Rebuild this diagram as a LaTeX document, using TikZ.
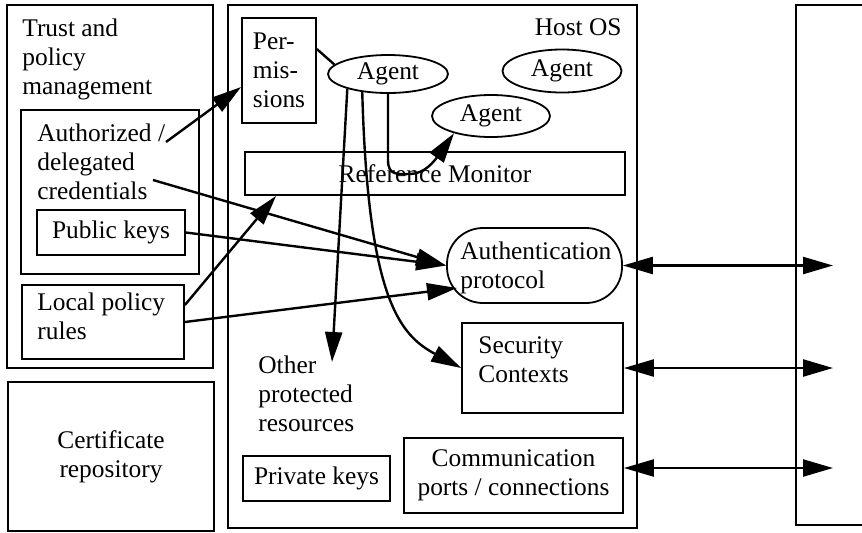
\documentclass[tikz,border=0pt]{standalone}
\usepackage{fontspec}
\setmainfont{Liberation Serif}
\usetikzlibrary{arrows.meta,shapes.geometric}
\begin{document}
\begin{tikzpicture}[x=0.5pt,y=-0.5pt,
  every node/.style={font=\fontsize{12.7}{14.5}\selectfont, inner sep=0pt},
  box/.style={draw, line width=0.9pt, rectangle, inner sep=0pt},
  txt/.style={align=left, anchor=west},
  agentnode/.style={draw, ellipse, line width=0.9pt},
  arr/.style={line width=1.2pt, -{Triangle[length=15pt,width=8.5pt]}},
  biarr/.style={line width=1.2pt, {Triangle[length=15pt,width=8.5pt]}-{Triangle[length=15pt,width=8.5pt]}},
  link/.style={line width=1.2pt}]

\useasboundingbox (0,0) rectangle (862,532);

% ---- trust and policy management column
\node[box, minimum width=103pt, minimum height=181.5pt] (trust) at (110,186.5) {};
\node[txt] (trusttxt) at (22,59) {Trust and\\policy\\management};
\node[box, minimum width=89pt, minimum height=82pt] (credbox) at (110,192) {};
\node[txt] (credtxt) at (37,161.5) {Authorized /\\delegated\\credentials};
\node[box, minimum width=74pt, minimum height=22.5pt] (pubkeys) at (111,232.5) {Public keys};
\node[box, minimum width=81pt, minimum height=37pt] (local) at (103,322) {};
\node[txt] (localtxt) at (37,316) {Local policy\\rules};
\node[box, minimum width=103pt, minimum height=74.5pt, align=center] (certrepo) at (111,456.5) {Certificate\\repository};

% ---- host operating system
\node[box, minimum width=204.5pt, minimum height=261.5pt] (host) at (432.5,266.5) {};
\node[anchor=base east] (hosttxt) at (622,35) {Host OS};
\node[box, minimum width=37pt, minimum height=52.5pt, align=left] (perm) at (279,70.5) {Per-\\mis-\\sions};
\node[agentnode, minimum width=60pt, minimum height=19pt] (agent1) at (388,74) {Agent};
\node[agentnode, minimum width=59.5pt, minimum height=21.5pt] (agent2) at (562,71) {Agent};
\node[agentnode, minimum width=59pt, minimum height=21pt] (agent3) at (491,116) {Agent};
\node[box, minimum width=190pt, minimum height=21.5pt] (refmon) at (435,173.5) {Reference Monitor};
\node[draw, line width=0.9pt, rounded corners=18pt, minimum width=87.5pt, minimum height=37.5pt] (authproto) at (534.5,265.5) {};
\node[txt] (authtxt) at (460,268) {Authentication\\protocol};
\node[box, minimum width=80.5pt, minimum height=45pt] (seccon) at (542.5,368) {};
\node[txt] (sectxt) at (478,360) {Security\\Contexts};
\node[txt] (othertxt) at (258,394) {Other\\protected\\resources};
\node[box, minimum width=73.5pt, minimum height=22.5pt] (privkeys) at (316.5,478.5) {Private keys};
\node[box, minimum width=109.5pt, minimum height=37.5pt, align=center] (comm) at (513.5,475.5) {Communication\\ports / connections};

% ---- remote side
\node[box, minimum width=60pt, minimum height=260pt] (remote) at (856,265) {};

% ---- connector ends
\coordinate (c1) at (166,142);
\coordinate (c2) at (153,180);
\coordinate (c5) at (457,288);
\coordinate (c7) at (332,362);
\coordinate (r1) at (833,265.5);
\coordinate (r2) at (833,368);
\coordinate (r3) at (833,468);

% ---- connectors
\draw[arr] (c1) -- ([yshift=-8.25pt]perm.west);
\draw[arr] (c2) -- (authproto.west);
\draw[arr] (pubkeys.east) -- (authproto.west);
\draw[arr] ([yshift=8.5pt]local.east) -- ([xshift=16pt]refmon.south west);
\draw[arr] (local.east) -- (c5);
\draw[link] ([yshift=-16pt]perm.north east) -- (agent1.170);
\draw[arr] (agent1.200) -- (c7);
\draw[arr] (agent1.215) .. controls (368,300) and (400,335) .. (seccon.west);
\draw[arr] (agent1.south) -- (388,160) .. controls (388,176) and (398,174) .. (410,174)
  .. controls (425,174) and (435,160) .. (agent3.205);

\draw[biarr] (authproto.east) -- (r1);
\draw[biarr] (seccon.east) -- (r2);
\draw[biarr] (comm.east |- r3) -- (r3);
\end{tikzpicture}
\end{document}
